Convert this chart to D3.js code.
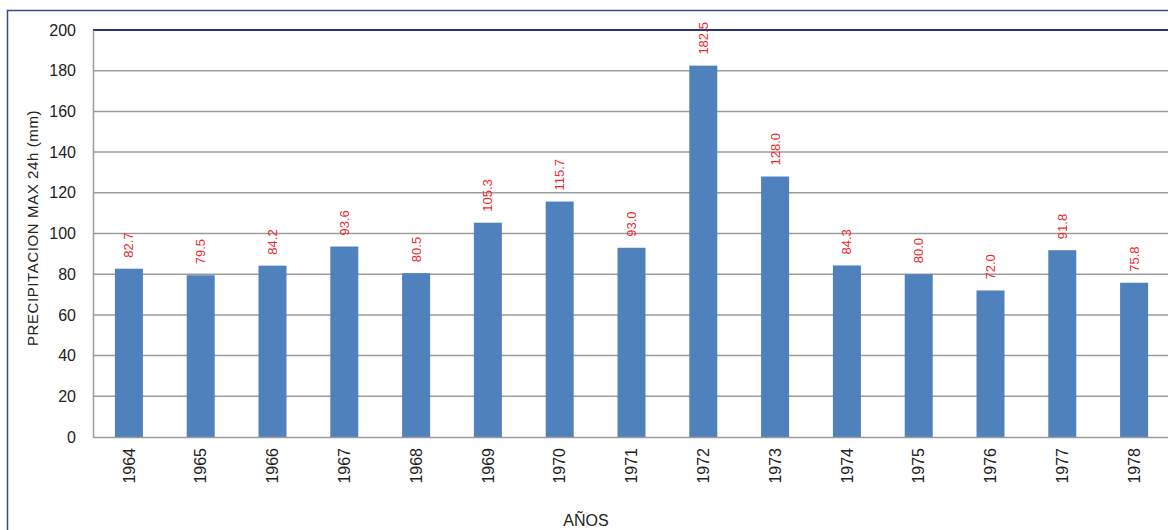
<!DOCTYPE html>
<html>
<head>
<meta charset="utf-8">
<script src="https://cdnjs.cloudflare.com/ajax/libs/d3/7.8.5/d3.min.js"></script>
<style>
  body { margin: 0; background: #fff; }
  svg { display: block; font-family: "Liberation Sans", Arial, sans-serif; }
</style>
</head>
<body>
<svg width="1168" height="530"></svg>
<script>
// datos
const years = ['1964', '1965', '1966', '1967', '1968', '1969', '1970', '1971',
    '1972', '1973', '1974', '1975', '1976', '1977', '1978'];
const precip = [82.7, 79.5, 84.2, 93.6, 80.5, 105.3, 115.7, 93.0,
    182.5, 128.0, 84.3, 80.0, 72.0, 91.8, 75.8];
const yTicks = [0, 20, 40, 60, 80, 100, 120, 140, 160, 180, 200];

const data = years.map((y, i) => ({ year: y, value: precip[i] }));

const svg = d3.select('svg');
const margin = { top: 30, left: 93 };
const plotW = 1077;   // se sale un poco por la derecha, como en la imagen
const plotH = 407;

// marco exterior
svg.append('rect')
    .attr('x', 7.5)
    .attr('y', 10.5)
    .attr('width', 1200)
    .attr('height', 600)
    .attr('fill', 'none')
    .attr('stroke', '#3a4a86')
    .attr('stroke-width', 1.5);

const g = svg.append('g').attr('transform', `translate(${margin.left},${margin.top})`);

const x = d3.scaleBand().domain(years).range([0, plotW]).padding(0);
const y = d3.scaleLinear().domain([0, 200]).range([plotH, 0]);
const barW = x.bandwidth() * 0.39;

// rejilla
g.selectAll('.grid')
    .data(yTicks.filter((t) => t > 0))
    .enter()
    .append('line')
    .attr('class', 'grid')
    .attr('x1', 0)
    .attr('x2', plotW)
    .attr('y1', (d) => y(d))
    .attr('y2', (d) => y(d))
    .attr('stroke', (d) => d === 200 ? '#26357a' : '#9c9c9c')
    .attr('stroke-width', (d) => d === 200 ? 2 : 1.5);

// eje y
const yAxis = g.append('g')
    .call(d3.axisLeft(y).tickValues(yTicks).tickSize(0).tickPadding(17));
yAxis.select('.domain').attr('stroke', '#9c9c9c').attr('stroke-width', 1.5);
yAxis.selectAll('text').attr('font-size', 16).attr('fill', '#222');

// barras
g.selectAll('.bar')
    .data(data)
    .enter()
    .append('rect')
    .attr('class', 'bar')
    .attr('x', (d) => x(d.year) + (x.bandwidth() - barW) / 2)
    .attr('y', (d) => y(d.value))
    .attr('width', barW)
    .attr('height', (d) => plotH - y(d.value))
    .attr('fill', '#4f81bd');

// eje x
const xAxis = g.append('g')
    .attr('transform', `translate(0,${plotH})`)
    .call(d3.axisBottom(x).tickSize(0));
xAxis.select('.domain').attr('stroke', '#9c9c9c').attr('stroke-width', 1.5);
xAxis.selectAll('text')
    .attr('font-size', 16)
    .attr('fill', '#222')
    .attr('text-anchor', 'end')
    .attr('transform', 'rotate(-90)')
    .attr('x', -11)
    .attr('y', 0)
    .attr('dy', '0.35em');

// etiquetas de valor
g.selectAll('.lbl')
    .data(data)
    .enter()
    .append('text')
    .attr('class', 'lbl')
    .attr('transform', (d) => `translate(${x(d.year) + x.bandwidth() / 2},${y(d.value) - 11}) rotate(-90)`)
    .attr('dy', '0.35em')
    .attr('font-size', 13)
    .attr('fill', '#f0282d')
    .text((d) => d.value.toFixed(1));

// títulos de ejes
svg.append('text')
    .attr('transform', 'translate(38,228) rotate(-90)')
    .attr('text-anchor', 'middle')
    .attr('font-size', 15)
    .attr('letter-spacing', 0.6)
    .attr('fill', '#222')
    .text('PRECIPITACION MAX 24h (mm)');

svg.append('text')
    .attr('x', 586)
    .attr('y', 526)
    .attr('text-anchor', 'middle')
    .attr('font-size', 16)
    .attr('fill', '#222')
    .text('AÑOS');
</script>
</body>
</html>
